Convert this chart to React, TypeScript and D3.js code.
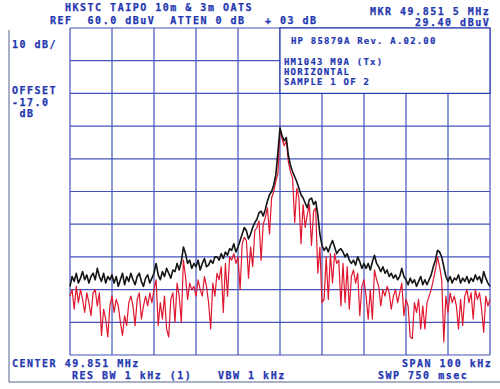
import { useMemo } from "react";
import * as d3 from "d3";

const W = 500;
const H = 389;

// frequency offset from centre, kHz, 0.5 kHz steps (-50 .. +50)
const STEP = 0.5;
const SPAN_HALF = 50;

// max hold trace (black), dBuV
const maxHold = [
  -19, -16, -17.5, -15, -18, -16.5, -14.5, -17, -15.5, -18,
  -16, -15, -17, -13.5, -16, -17.5, -15, -18, -16, -17,
  -15.5, -18, -16, -19, -17, -15, -18.5, -16, -17.5, -15,
  -17, -18.5, -16, -15, -17.5, -19, -16.5, -15.5, -18, -16.5,
  -15, -12, -15.5, -17, -14.5, -16, -13.5, -15, -16.5, -14,
  -14.5, -12, -14, -11.5, -7, -9, -12, -11, -13.5, -12,
  -13, -11, -14, -12, -10.5, -13, -12.5, -11, -12, -10,
  -10, -11, -9, -10.5, -8.5, -9.5, -7.5, -8, -6, -8.5,
  -7, -5, -3, -1, -2, -4.5, -3, -1, 0.5, 1.5,
  3.5, 4, 2.5, 4.5, 7, 9, 10, 12, 15, 22,
  29.4, 27, 25.5, 26.5, 21, 18, 16, 14.5, 13, 11,
  9, 8, 6.5, 5, 7.5, 8, 6, 7, 3, -3,
  -6.5, -8, -7, -8.5, -6.5, -5, -7, -9, -8, -7.5,
  -8.5, -10, -9, -11, -12, -11, -12.5, -10, -11.5, -13.5,
  -12, -13.5, -12, -14, -11.5, -9.5, -12, -13, -14.5, -13,
  -15, -14, -16, -15, -16.5, -15.5, -17, -16, -13.5, -16,
  -17, -18.5, -16.5, -18, -17, -19, -17.5, -16, -18.5, -17,
  -18.5, -17, -15.5, -13, -11, -8, -8.5, -10, -13, -16,
  -17.5, -16, -18, -16.5, -17, -15.5, -18, -16.5, -17.5, -16,
  -18, -16.5, -17.5, -15.5, -17, -16, -18, -14.5, -16.5, -18,
  -19,
];

// sample trace (red), dBuV
const sample = [
  -22, -20, -26, -19, -24, -20, -23, -27, -21, -24,
  -28, -21, -20, -25, -21, -34, -26, -29, -34.5, -25,
  -22, -27, -23, -25, -30, -34, -28, -31, -24, -22,
  -25, -31, -23, -21, -29, -25, -22, -25, -21, -24,
  -20, -17, -31, -24, -29, -22, -32, -34.5, -23, -21,
  -30, -18, -22, -30, -11, -16, -23, -18, -20, -19,
  -22, -17, -20, -22, -16, -19, -24, -32, -18, -22,
  -15, -17, -13, -27, -12, -22, -10, -11, -9, -12,
  -10, -20, -6, -4, -5, -16.5, -7, -13, -2, -1,
  1, -11, 0, 2, 5, -3, 8, 10, 13, 15.5,
  29.4, 26, 24, 25.5, 19, 16, 14, 0.5, 11, 8,
  -6, 6, -1, 3, 6, -6.5, 4, 5, -15, -7,
  -24, -23, -10, -23, -9, -18, -9, -12, -11, -25,
  -12, -24, -13, -26, -16, -14, -18, -15, -28, -19,
  -17, -22, -29, -20, -29, -14, -17, -19, -25, -20,
  -22, -19, -21, -26, -22, -20, -24, -21, -18, -28,
  -23, -25, -34.5, -35, -24, -27, -23, -32, -25, -32,
  -24, -22, -20, -17, -14, -10, -13, -17, -36, -22,
  -27, -21, -24, -22, -25, -32, -23, -31, -22, -20,
  -24, -21, -29, -20, -23, -21, -26, -33, -22, -25,
  -23,
];

const xTicks = d3.range(-50, 51, 10);
const yTicks = d3.range(-40, 61, 10);

const BLUE = "#2437b0";
const FONT = "'DejaVu Sans Mono', monospace";

const txt = [
  { s: "HKSTC TAIPO 10m & 3m OATS", x: 65, y: 11 },
  { s: "REF  60.0 dBuV  ATTEN 0 dB", x: 50, y: 24 },
  { s: "+ 03 dB", x: 265, y: 24 },
  { s: "MKR 49.851 5 MHz", x: 370, y: 15 },
  { s: "29.40 dBuV", x: 415, y: 26 },
  { s: "10 dB/", x: 12, y: 48 },
  { s: "OFFSET", x: 12, y: 94 },
  { s: "-17.0", x: 12, y: 106 },
  { s: " dB", x: 12, y: 117 },
  { s: "CENTER 49.851 MHz", x: 12, y: 367 },
  { s: "RES BW 1 kHz (1)", x: 72, y: 379 },
  { s: "VBW 1 kHz", x: 218, y: 379 },
  { s: "SPAN 100 kHz", x: 402, y: 367 },
  { s: "SWP 750 msec", x: 378, y: 379 },
];

const boxTxt = [
  { s: "HP 85879A Rev. A.02.00", x: 291, y: 44 },
  { s: "HM1043 M9A (Tx)", x: 284, y: 65 },
  { s: "HORIZONTAL", x: 284, y: 75 },
  { s: "SAMPLE 1 OF 2", x: 284, y: 85 },
];

export default function App() {
  const x = d3.scaleLinear().domain([-50, 50]).range([70, 490]);
  const y = d3.scaleLinear().domain([-40, 60]).range([355, 28]);

  const line = useMemo(
    () =>
      d3
        .line<number>()
        .x((_, i) => x(-SPAN_HALF + i * STEP))
        .y((d) => y(d)),
    []
  );

  return (
    <svg
      width={W}
      height={H}
      style={{ position: "absolute", left: 0, top: 0, background: "#fff" }}
    >
      <rect width={W} height={H} fill="#fff" />
      {/* outer frame */}
      <line x1={9} x2={9} y1={30} y2={382} stroke="#55608a" strokeWidth={1} />
      <line x1={9} x2={500} y1={382} y2={382} stroke="#55608a" strokeWidth={1} />

      {/* grid */}
      <g stroke={BLUE} strokeWidth={1.2} opacity={0.85}>
        {xTicks.map((t) => (
          <line key={"x" + t} x1={x(t)} x2={x(t)} y1={y(60)} y2={y(-40)} />
        ))}
        {yTicks.map((t) => (
          <line key={"y" + t} x1={x(-50)} x2={x(50)} y1={y(t)} y2={y(t)} />
        ))}
      </g>

      {/* annotation box */}
      <rect
        x={x(0)}
        y={y(60)}
        width={x(50) - x(0)}
        height={y(40) - y(60)}
        fill="#fff"
        stroke={BLUE}
        strokeWidth={1.2}
      />

      {/* traces */}
      <path
        d={line(sample) ?? ""}
        fill="none"
        stroke="#e0162e"
        strokeWidth={1.2}
        strokeLinejoin="round"
      />
      <path
        d={line(maxHold) ?? ""}
        fill="none"
        stroke="#141414"
        strokeWidth={1.6}
        strokeLinejoin="round"
      />

      <g
        fill={BLUE}
        stroke={BLUE}
        strokeWidth={0.25}
        fontFamily={FONT}
        fontWeight="bold"
        fontSize={10}
        letterSpacing={1.5}
      >
        {txt.map((t, i) => (
          <text key={i} x={t.x} y={t.y} style={{ whiteSpace: "pre" }}>
            {t.s}
          </text>
        ))}
      </g>
      <g
        fill={BLUE}
        stroke={BLUE}
        strokeWidth={0.2}
        fontFamily={FONT}
        fontWeight="bold"
        fontSize={9}
        letterSpacing={1.2}
      >
        {boxTxt.map((t, i) => (
          <text key={i} x={t.x} y={t.y} style={{ whiteSpace: "pre" }}>
            {t.s}
          </text>
        ))}
      </g>
    </svg>
  );
}
